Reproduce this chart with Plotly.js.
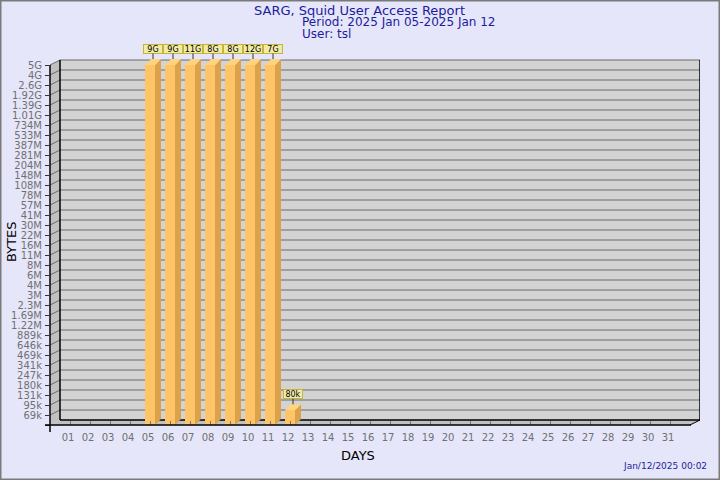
<!DOCTYPE html>
<html>
<head>
<meta charset="utf-8">
<script src="https://cdn.plot.ly/plotly-3.0.1.min.js"></script>
<style>html,body{margin:0;padding:0;background:#e6e6fa;}#chart{width:720px;height:480px;}</style>
</head>
<body>
<div id="chart"></div>
<script>
// ---- data ----
const dayLabels = ['01','02','03','04','05','06','07','08','09','10','11','12','13','14','15','16','17','18','19','20','21','22','23','24','25','26','27','28','29','30','31'];
const barDays = [5, 6, 7, 8, 9, 10, 11, 12];
const barBytes = [9e9, 9e9, 11e9, 8e9, 8e9, 12e9, 7e9, 80e3];
const barLabels = ['9G', '9G', '11G', '8G', '8G', '12G', '7G', '80k'];
const yTickLabels = ['69k','95k','131k','180k','247k','341k','469k','646k','889k','1.22M','1.69M','2.3M','3M','4M','6M','8M','11M','16M','22M','30M','41M','57M','78M','108M','148M','204M','281M','387M','533M','734M','1.01G','1.39G','1.92G','2.6G','4G','5G'];
const scaleMin = 50e3;   // value at the floor of the chart
const scaleMax = 5e9;    // value at the top tick
const titleLines = ['SARG, Squid User Access Report', 'Period: 2025 Jan 05-2025 Jan 12', 'User: tsl'];
const xTitle = 'DAYS';
const yTitle = 'BYTES';
const stampText = 'Jan/12/2025 00:02';

// ---- helpers ----
const nSteps = yTickLabels.length;           // 36 log steps
const dayCount = dayLabels.length;           // 31
function toIdx(v) {
  const r = Math.log(v / scaleMin) / Math.log(scaleMax / scaleMin) * nSteps;
  return Math.max(0, Math.min(nSteps, r));
}
const heights = barBytes.map(toIdx);
const DX = 0.5, DY = 0.5;       // wall depth (days, steps)
const BW = 0.5;                 // bar front width (days)
const BDX = 0.3, BDY = 0.6;     // bar depth

// plot geometry in pixels (for paper placement of text)
const L = 50, R = 20, T = 55, B = 55, W = 720, H = 480;
const pw = W - L - R, ph = H - T - B;
const px = x => (x - L) / pw;
const py = y => (H - B - y) / ph;

// bar faces
const sideX = [], sideY = [], topX = [], topY = [];
barDays.forEach((d, i) => {
  const h = heights[i];
  sideX.push(d + BW/2, d + BW/2, d + BW/2 + BDX, d + BW/2 + BDX, d + BW/2, null);
  sideY.push(0, h, h + BDY, BDY, 0, null);
  topX.push(d - BW/2, d + BW/2, d + BW/2 + BDX, d - BW/2 + BDX, d - BW/2, null);
  topY.push(h, h, h + BDY, h + BDY, h, null);
});

const traces = [
  {type: 'bar', x: barDays, y: heights, width: BW, marker: {color: '#ffc468', line: {width: 0}},
   hoverinfo: 'skip', showlegend: false},
  {type: 'scatter', mode: 'lines', x: sideX, y: sideY, fill: 'toself', fillcolor: '#dca24b',
   line: {width: 0, color: '#dca24b'}, hoverinfo: 'skip', showlegend: false},
  {type: 'scatter', mode: 'lines', x: topX, y: topY, fill: 'toself', fillcolor: '#ffd47c',
   line: {width: 0, color: '#ffd47c'}, hoverinfo: 'skip', showlegend: false}
];

// walls, grid
const xEnd = dayCount + 1;  // 32
const shapes = [];
shapes.push({type: 'rect', xref: 'x', yref: 'y', x0: DX, x1: xEnd + DX, y0: DY, y1: nSteps + DY,
  fillcolor: '#d3d3d3', line: {width: 0}, layer: 'below'});
shapes.push({type: 'path', xref: 'x', yref: 'y', layer: 'below',
  path: `M0,0 L${DX},${DY} L${DX},${nSteps + DY} L0,${nSteps} Z`, fillcolor: '#c0c0c0', line: {width: 0}});
shapes.push({type: 'path', xref: 'x', yref: 'y', layer: 'below',
  path: `M0,0 L${DX},${DY} L${xEnd + DX},${DY} L${xEnd},0 Z`, fillcolor: '#c0c0c0', line: {width: 0}});
for (let i = 1; i <= nSteps; i++) {
  shapes.push({type: 'line', xref: 'x', yref: 'y', layer: 'below', x0: DX, x1: xEnd + DX, y0: i + DY, y1: i + DY,
    line: {color: '#6a6a6a', width: 1}});
  shapes.push({type: 'line', xref: 'x', yref: 'y', layer: 'below', x0: 0, x1: DX, y0: i, y1: i + DY,
    line: {color: '#6a6a6a', width: 1}});
}
shapes.push({type: 'line', xref: 'x', yref: 'y', layer: 'below', x0: DX, x1: xEnd + DX, y0: DY, y1: DY, line: {color: '#000', width: 1.5}});
shapes.push({type: 'line', xref: 'x', yref: 'y', layer: 'below', x0: DX, x1: DX, y0: DY, y1: nSteps + DY, line: {color: '#000', width: 1.5}});
shapes.push({type: 'line', xref: 'x', yref: 'y', layer: 'below', x0: xEnd + DX, x1: xEnd + DX, y0: DY, y1: nSteps + DY, line: {color: '#000', width: 1.5}});
shapes.push({type: 'line', xref: 'x', yref: 'y', layer: 'below', x0: xEnd, x1: xEnd + DX, y0: 0, y1: DY, line: {color: '#000', width: 1}});
shapes.push({type: 'line', xref: 'paper', yref: 'paper', layer: 'above', x0: 0, x1: 0, y0: py(432), y1: py(65), line: {color: '#000', width: 1.5}});
shapes.push({type: 'line', xref: 'paper', yref: 'paper', layer: 'above', x0: px(45), x1: px(691), y0: 0, y1: 0, line: {color: '#000', width: 1.5}});
shapes.push({type: 'rect', xref: 'paper', yref: 'paper', layer: 'above', x0: px(0), x1: px(720), y0: py(480), y1: py(0),
  line: {color: '#7a7a7a', width: 3}, fillcolor: 'rgba(0,0,0,0)'});

const annotations = [];
barDays.forEach((d, i) => {
  annotations.push({xref: 'x', yref: 'y', x: d + 0.15, y: heights[i] + BDY, text: barLabels[i],
    showarrow: true, arrowhead: 0, arrowwidth: 1, arrowcolor: '#333', ax: 0, ay: -10,
    font: {family: 'DejaVu Sans', size: 8, color: '#000'}, bgcolor: '#efebaa', bordercolor: '#c9b434',
    borderwidth: 1, borderpad: 0, width: 18, height: 8});
});
const titleColor = '#1c1c9c';
annotations.push({xref: 'paper', yref: 'paper', x: px(359), y: py(10.5), xanchor: 'center', yanchor: 'middle',
  text: titleLines[0], showarrow: false, font: {family: 'DejaVu Sans', size: 13, color: titleColor}});
annotations.push({xref: 'paper', yref: 'paper', x: px(300), y: py(22.5), xanchor: 'left', yanchor: 'middle',
  text: titleLines[1], showarrow: false, font: {family: 'DejaVu Sans', size: 12, color: titleColor}});
annotations.push({xref: 'paper', yref: 'paper', x: px(300), y: py(34), xanchor: 'left', yanchor: 'middle',
  text: titleLines[2], showarrow: false, font: {family: 'DejaVu Sans', size: 12, color: titleColor}});
annotations.push({xref: 'paper', yref: 'paper', x: px(709), y: py(466), xanchor: 'right', yanchor: 'middle',
  text: stampText, showarrow: false, font: {family: 'DejaVu Sans', size: 9, color: titleColor}});
annotations.push({xref: 'paper', yref: 'paper', x: px(358), y: py(455), xanchor: 'center', yanchor: 'middle',
  text: xTitle, showarrow: false, font: {family: 'DejaVu Sans', size: 13, color: '#000'}});
annotations.push({xref: 'paper', yref: 'paper', x: px(12), y: py(242), xanchor: 'center', yanchor: 'middle',
  text: yTitle, textangle: -90, showarrow: false, font: {family: 'DejaVu Sans', size: 13, color: '#000'}});

const dayVals = dayLabels.map((_, i) => i + 1);
const yVals = [0].concat(yTickLabels.map((_, i) => i + 1));
const yText = [''].concat(yTickLabels);

const layout = {
  width: W, height: H,
  margin: {l: L, r: R, t: T, b: B, pad: 0},
  paper_bgcolor: '#e6e6fa', plot_bgcolor: 'rgba(0,0,0,0)',
  showlegend: false,
  xaxis: {range: [0, xEnd + DX], fixedrange: true, showgrid: false, zeroline: false, showline: false,
    tickmode: 'array', tickvals: dayVals, ticktext: dayLabels, ticks: 'inside', ticklen: 4, tickcolor: '#777',
    ticklabelshift: -2, ticklabelstandoff: 5, tickfont: {family: 'DejaVu Sans', size: 10, color: '#707070'}},
  yaxis: {range: [0, nSteps + 1], fixedrange: true, showgrid: false, zeroline: false, showline: false,
    tickmode: 'array', tickvals: yVals, ticktext: yText, ticks: 'outside', ticklen: 4, tickcolor: '#333',
    ticklabelstandoff: 1, tickfont: {family: 'DejaVu Sans', size: 10, color: '#707070'}},
  shapes: shapes,
  annotations: annotations,
  bargap: 0
};

Plotly.newPlot('chart', traces, layout, {staticPlot: true, displayModeBar: false});
</script>
</body>
</html>
